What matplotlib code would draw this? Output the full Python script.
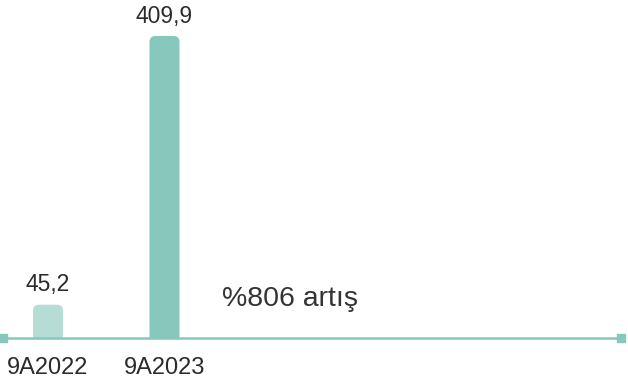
import matplotlib.pyplot as plt
from matplotlib.patches import FancyBboxPatch

plt.rcParams['font.family'] = ['Liberation Sans', 'DejaVu Sans']

categories = ['9A2022', '9A2023']
values = [45.2, 409.9]
value_labels = ['45,2', '409,9']
note = '%806 artış'

bar_colors = ['#b5ddd5', '#86c8bc']
line_color = '#86c8bc'
text_color = '#2b2b2b'

fig = plt.figure(figsize=(6.28, 3.83), dpi=100)
ax = fig.add_axes([0, 45 / 383, 1, 338 / 383])

px_x = 116.5   # pixels per x unit
px_y = 0.7368  # pixels per value unit
ax.set_xlim(-48 / px_x, (628 - 48) / px_x)
ax.set_ylim(0, 338 / px_y)

xs = list(range(len(values)))
bars = ax.bar(xs, values, width=30 / px_x, color=bar_colors)

# swap plain bars for bars with rounded tops
r_x = 6 / px_x
r_y = 6 / px_y
for b, c in zip(bars, bar_colors):
    x0, w, h = b.get_x(), b.get_width(), b.get_height()
    b.remove()
    p = FancyBboxPatch((x0, -2 * r_y), w, h + 2 * r_y,
                       boxstyle='round,pad=0,rounding_size=%f' % r_x,
                       mutation_aspect=r_y / r_x,
                       facecolor=c, edgecolor='none', zorder=2)
    ax.add_patch(p)

for x, v, lab in zip(xs, values, value_labels):
    ax.annotate(lab, (x, v), xytext=(0, 6), textcoords='offset points',
                ha='center', va='bottom', fontsize=16.5, color=text_color)

# baseline with square end caps
ax.plot([-45 / px_x, (621 - 48) / px_x], [0, 0], color=line_color, lw=1.8,
        marker='s', markersize=6, clip_on=False, zorder=3)

ax.text((222 - 48) / px_x, 39 / px_y, note, ha='left', va='center',
        fontsize=20.5, color='#333333')

ax.set_xticks(xs)
ax.set_xticklabels(categories, fontsize=17, color=text_color)
ax.tick_params(axis='x', length=0, pad=14)
ax.set_yticks([])
for s in ax.spines.values():
    s.set_visible(False)

fig.savefig('out.png', dpi=100)
